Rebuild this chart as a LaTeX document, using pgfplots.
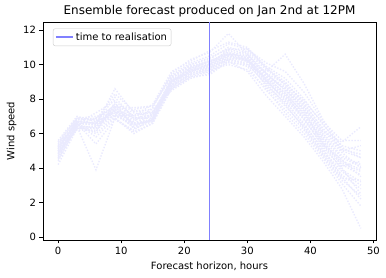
\documentclass[border=0pt]{standalone}
\usepackage{pgfplots}
\pgfplotsset{compat=1.18}
\usepackage{fontspec}
\setmainfont{DejaVu Sans}
\definecolor{enscol}{RGB}{234,234,254}
\definecolor{rlzcol}{RGB}{128,128,255}
\begin{document}
\begin{tikzpicture}
\begin{axis}[
  at={(0,0)}, anchor=south west,
  scale only axis, width=333pt, height=218pt,
  xmin=-2.4, xmax=50.4, ymin=-0.17, ymax=12.47,
  xtick={0,10,20,30,40,50}, ytick={0,2,4,6,8,10,12},
  tick align=outside, tick pos=left, major tick length=3.5pt,
  every tick/.style={black, line width=0.8pt},
  axis line style={line width=0.8pt},
  /pgf/number format/assume math mode=true,
  tick label style={font=\fontsize{10}{12}\selectfont},
  label style={font=\fontsize{10}{12}\selectfont},
  title style={font=\fontsize{12}{14}\selectfont, yshift=-5pt},
  title={Ensemble forecast produced on Jan 2nd at 12PM},
  xlabel={Forecast horizon, hours}, ylabel={Wind speed},
  legend pos=north west,
  legend style={font=\fontsize{10}{12}\selectfont, draw={rgb,255:red,204;green,204;blue,204}, rounded corners=2pt, inner sep=2pt},
  legend cell align=left,
  clip=false,
]
\pgfplotsset{enstyle/.style={color=enscol, dash pattern=on 1.4pt off 1.6pt, line width=1.4pt, forget plot}}
\addplot[enstyle] coordinates {(0,5.0)(3,6.6)(6,6.5)(9,7.3)(12,6.8)(15,7.0)(18,8.9)(21,9.6)(24,9.9)(27,10.5)(30,10.3)(33,9.1)(36,8.2)(39,7.0)(42,5.5)(45,4.3)(48,3.8)};
\addplot[enstyle] coordinates {(0,4.8)(3,6.5)(6,6.3)(9,7.6)(12,6.5)(15,6.9)(18,9.1)(21,9.8)(24,10.1)(27,10.8)(30,10.5)(33,9.4)(36,8.6)(39,7.4)(42,5.9)(45,4.7)(48,4.2)};
\addplot[enstyle] coordinates {(0,5.3)(3,6.8)(6,6.8)(9,7.0)(12,7.1)(15,7.2)(18,8.7)(21,9.4)(24,9.7)(27,10.3)(30,10.1)(33,8.8)(36,7.8)(39,6.6)(42,5.0)(45,3.8)(48,3.0)};
\addplot[enstyle] coordinates {(0,4.6)(3,6.4)(6,6.1)(9,7.8)(12,6.3)(15,6.7)(18,9.3)(21,10.0)(24,10.3)(27,11.0)(30,10.7)(33,9.7)(36,8.9)(39,7.8)(42,6.2)(45,5.0)(48,4.6)};
\addplot[enstyle] coordinates {(0,5.5)(3,6.9)(6,7.0)(9,7.2)(12,7.3)(15,7.4)(18,8.5)(21,9.2)(24,9.5)(27,10.2)(30,9.9)(33,8.5)(36,7.4)(39,6.2)(42,4.7)(45,3.3)(48,2.4)};
\addplot[enstyle] coordinates {(0,5.1)(3,6.7)(6,6.6)(9,8.1)(12,6.9)(15,7.1)(18,9.0)(21,9.7)(24,10.0)(27,10.6)(30,10.4)(33,9.2)(36,8.4)(39,7.1)(42,5.6)(45,4.1)(48,4.4)};
\addplot[enstyle] coordinates {(0,4.9)(3,6.3)(6,6.4)(9,7.4)(12,6.6)(15,6.8)(18,8.8)(21,9.5)(24,9.8)(27,10.4)(30,10.2)(33,9.0)(36,8.0)(39,6.8)(42,5.3)(45,4.5)(48,3.5)};
\addplot[enstyle] coordinates {(0,5.2)(3,6.6)(6,5.8)(9,6.9)(12,6.0)(15,6.6)(18,9.2)(21,9.9)(24,10.2)(27,10.7)(30,10.4)(33,8.7)(36,7.6)(39,6.4)(42,4.9)(45,3.6)(48,2.8)};
\addplot[enstyle] coordinates {(0,4.4)(3,6.5)(6,6.9)(9,7.5)(12,7.4)(15,7.6)(18,9.4)(21,10.1)(24,10.5)(27,11.2)(30,10.9)(33,9.9)(36,9.2)(39,8.0)(42,6.5)(45,5.3)(48,5.0)};
\addplot[enstyle] coordinates {(0,5.6)(3,7.0)(6,6.7)(9,7.7)(12,7.0)(15,7.3)(18,8.6)(21,9.3)(24,9.6)(27,10.1)(30,10.0)(33,9.3)(36,8.3)(39,7.2)(42,5.7)(45,4.4)(48,3.9)};
\addplot[enstyle] coordinates {(0,5.0)(3,6.2)(6,6.2)(9,7.1)(12,6.4)(15,6.8)(18,9.0)(21,9.6)(24,10.0)(27,10.9)(30,10.6)(33,9.5)(36,8.5)(39,7.3)(42,5.4)(45,3.9)(48,3.2)};
\addplot[enstyle] coordinates {(0,4.7)(3,6.6)(6,5.4)(9,6.8)(12,6.2)(15,6.9)(18,8.8)(21,9.7)(24,9.9)(27,10.5)(30,10.8)(33,9.8)(36,8.8)(39,7.6)(42,6.0)(45,4.9)(48,4.0)};
\addplot[enstyle] coordinates {(0,5.4)(3,6.9)(6,6.5)(9,8.6)(12,7.2)(15,7.0)(18,9.1)(21,9.5)(24,9.7)(27,10.0)(30,9.7)(33,8.6)(36,7.2)(39,6.0)(42,4.6)(45,3.1)(48,1.8)};
\addplot[enstyle] coordinates {(0,4.9)(3,6.5)(6,6.7)(9,7.2)(12,6.7)(15,7.5)(18,9.5)(21,10.3)(24,10.7)(27,11.8)(30,10.6)(33,9.4)(36,8.7)(39,7.5)(42,6.1)(45,5.5)(48,6.4)};
\addplot[enstyle] coordinates {(0,5.2)(3,6.7)(6,6.6)(9,7.4)(12,6.9)(15,6.9)(18,8.9)(21,9.8)(24,10.2)(27,10.6)(30,10.2)(33,9.6)(36,10.6)(39,8.9)(42,6.8)(45,5.2)(48,4.6)};
\addplot[enstyle] coordinates {(0,4.5)(3,6.4)(6,3.9)(9,6.9)(12,6.1)(15,6.6)(18,8.6)(21,9.3)(24,9.4)(27,10.2)(30,9.6)(33,8.2)(36,7.0)(39,5.8)(42,4.4)(45,2.8)(48,0.5)};
\addplot[enstyle] coordinates {(0,5.1)(3,6.8)(6,6.9)(9,7.6)(12,7.5)(15,7.6)(18,9.3)(21,10.0)(24,10.4)(27,10.9)(30,10.9)(33,10.1)(36,9.6)(39,8.4)(42,6.7)(45,5.6)(48,5.6)};
\addplot[enstyle] coordinates {(0,4.2)(3,6.3)(6,6.3)(9,7.3)(12,6.6)(15,7.1)(18,9.0)(21,9.7)(24,9.8)(27,10.4)(30,10.3)(33,9.0)(36,8.1)(39,6.9)(42,5.2)(45,4.0)(48,2.5)};
\addplot[enstyle] coordinates {(0,5.3)(3,6.6)(6,7.2)(9,7.9)(12,7.0)(15,7.7)(18,9.6)(21,10.2)(24,10.8)(27,11.3)(30,11.0)(33,9.8)(36,9.0)(39,7.7)(42,6.3)(45,5.1)(48,4.8)};
\addplot[enstyle] coordinates {(0,5.0)(3,6.5)(6,6.0)(9,7.0)(12,6.6)(15,6.7)(18,8.7)(21,9.5)(24,9.8)(27,10.3)(30,10.4)(33,9.1)(36,7.9)(39,6.5)(42,5.1)(45,3.5)(48,2.2)};
\addplot[enstyle] coordinates {(0,4.8)(3,6.9)(6,6.8)(9,8.3)(12,7.3)(15,7.2)(18,9.2)(21,9.9)(24,10.1)(27,10.7)(30,10.3)(33,9.3)(36,8.6)(39,7.4)(42,5.8)(45,4.6)(48,4.1)};
\addplot[enstyle] coordinates {(0,5.5)(3,6.4)(6,6.4)(9,7.1)(12,6.5)(15,6.8)(18,8.8)(21,9.4)(24,9.6)(27,10.3)(30,10.0)(33,8.9)(36,7.7)(39,6.3)(42,4.8)(45,3.4)(48,3.3)};
\addplot[enstyle] coordinates {(0,4.6)(3,6.7)(6,6.6)(9,7.5)(12,6.9)(15,7.0)(18,9.0)(21,9.8)(24,10.0)(27,10.6)(30,10.5)(33,9.5)(36,8.9)(39,7.9)(42,6.6)(45,5.0)(48,5.3)};
\addplot[enstyle] coordinates {(0,5.2)(3,6.6)(6,6.5)(9,7.3)(12,6.3)(15,7.2)(18,9.1)(21,9.6)(24,9.9)(27,10.5)(30,10.2)(33,9.2)(36,8.3)(39,6.8)(42,5.4)(45,4.2)(48,3.6)};
\addplot[color=rlzcol, line width=1.6pt] coordinates {(24,-0.17) (24,12.47)};
\addlegendentry{time to realisation}
\draw[rlzcol, line width=1.6pt] (axis cs:24,-0.17) -- (axis cs:24,12.47);
\end{axis}
\pgfresetboundingbox
\path (-43pt,-38pt) rectangle (343pt,240pt);
\end{tikzpicture}
\end{document}
